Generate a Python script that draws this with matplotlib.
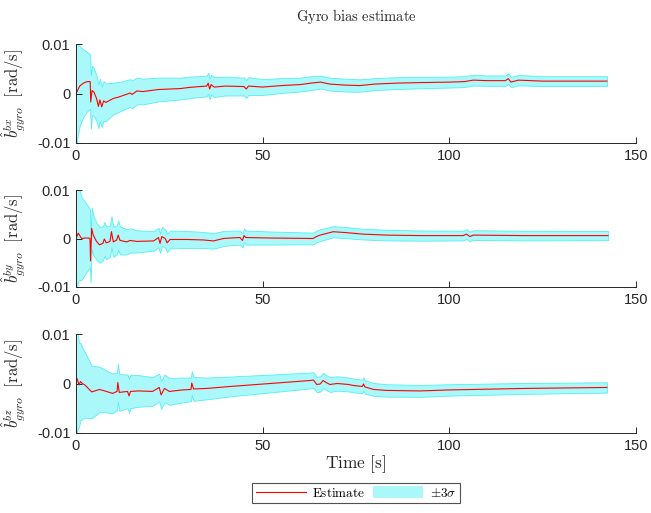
import numpy as np
import matplotlib as mpl
mpl.use('Agg')
from matplotlib import pyplot as plt
from matplotlib.patches import Patch
from matplotlib.lines import Line2D

plt.rcParams['mathtext.fontset'] = 'cm'
plt.rcParams['font.family'] = ['Liberation Sans', 'DejaVu Sans']
plt.rcParams['axes.unicode_minus'] = False

# Data (estimate and 3 sigma, in 1e-3 rad/s)
t_bx = [0, 0.4, 1.0, 2.0, 3.0, 3.8, 3.95, 4.3, 4.8, 5.5, 6.0, 6.4, 6.9, 7.4, 8.0, 9.0, 10.0,
        11.5, 13.0, 14.5, 15.0, 16.3, 18.0, 20.0, 22.0, 25.0, 28.0, 30.0, 33.0, 35.0, 35.4,
        35.8, 36.2, 37.0, 40.0, 45.0, 45.6, 46.2, 50.0, 55.0, 60.0, 63.0, 65.5, 68.0, 72.0,
        76.0, 80.0, 86.0, 92.0, 100.0, 104.0, 106.4, 110.0, 115.0, 115.8, 116.5, 118.5,
        125.0, 135.0, 142.2]
est_bx = [-0.1, 0.6, 1.5, 2.1, 2.4, 2.4, -1.7, 0.6, 0.3, -1.0, -2.6, -1.3, -2.7, -1.5, -1.8,
          -1.4, -1.0, -0.7, -0.3, 0.1, -0.2, 0.5, 0.4, 0.6, 0.8, 0.9, 1.0, 1.2, 1.4, 1.5, 2.1,
          0.9, 1.8, 1.3, 1.5, 1.4, 0.9, 1.5, 1.3, 1.6, 1.8, 2.1, 2.3, 1.9, 1.7, 1.6, 1.9, 2.1,
          2.2, 2.3, 2.4, 2.7, 2.6, 2.6, 3.0, 2.3, 2.7, 2.5, 2.5, 2.5]
sig_bx = [12, 9.5, 8.0, 6.8, 6.0, 5.5, 5.4, 5.0, 4.8, 4.6, 4.4, 4.3, 4.1, 4.0, 3.8, 3.5, 3.2,
          3.0, 2.9, 2.8, 2.8, 2.7, 2.6, 2.5, 2.4, 2.3, 2.2, 2.2, 2.1, 2.1, 2.1, 2.1, 2.0, 2.0,
          1.9, 1.8, 1.8, 1.8, 1.6, 1.5, 1.4, 1.4, 1.3, 1.3, 1.3, 1.25, 1.2, 1.2, 1.15, 1.1,
          1.1, 1.1, 1.05, 1.05, 1.05, 1.05, 1.05, 1.0, 1.0, 1.0]

t_by = [0, 0.6, 1.5, 2.4, 3.3, 3.75, 3.9, 4.2, 4.6, 5.5, 6.3, 7.2, 7.6, 8.1, 9.1, 9.5, 10.0,
        10.9, 11.3, 11.8, 13.6, 14.5, 16.3, 20.8, 22.1, 22.5, 23.0, 23.9, 24.4, 25.2, 29.7,
        34.1, 36.8, 39.5, 41.3, 43.9, 44.6, 45.0, 45.5, 52.0, 63.5, 64.4, 65.4, 68.9, 72.5,
        76.9, 83.2, 92.2, 103.7, 104.6, 105.5, 106.4, 120.0, 142.5]
est_by = [0.0, 1.1, 0.0, 0.1, 0.1, 0.0, -4.6, 2.1, 0.7, -0.6, -1.3, -1.0, -0.1, -0.9, -0.6,
          1.4, -0.7, -0.3, 0.7, -0.4, -0.7, -0.4, -0.6, -0.5, 0.2, -1.0, 0.4, 0.0, -0.9, -0.2,
          -0.2, -0.3, -0.5, 0.0, 0.1, 0.2, -0.4, 0.6, 0.2, 0.1, 0.0, 0.4, 0.7, 1.4, 1.2, 0.9,
          0.7, 0.6, 0.6, 0.9, 0.4, 0.7, 0.6, 0.6]
sig_by = [12, 9.8, 8.5, 7.5, 6.5, 6.0, 4.5, 4.3, 4.1, 3.8, 3.7, 3.5, 3.5, 3.4, 3.2, 3.2, 3.1,
          3.0, 3.0, 2.9, 2.6, 2.5, 2.3, 2.0, 2.0, 2.0, 1.95, 1.9, 1.9, 1.85, 1.75, 1.65, 1.6,
          1.55, 1.5, 1.45, 1.45, 1.45, 1.45, 1.35, 1.2, 1.2, 1.2, 1.15, 1.15, 1.1, 1.1, 1.05,
          1.0, 1.0, 1.0, 1.0, 1.0, 0.95]

t_bz = [0, 0.3, 0.8, 1.2, 1.7, 2.4, 4.2, 6.3, 7.7, 9.8, 11.0, 11.2, 11.6, 13.8, 14.2, 14.6,
        16.7, 20.5, 22.3, 22.8, 23.7, 25.0, 28.5, 30.8, 31.0, 31.5, 35.0, 41.3, 52.0, 62.7,
        63.6, 64.5, 65.4, 66.2, 67.0, 68.0, 70.0, 73.0, 74.3, 76.7, 77.0, 77.4, 79.7, 83.2,
        92.2, 100.0, 120.0, 142.2]
est_bz = [0.7, 1.0, -0.3, 0.4, 0.0, -0.3, -1.7, -1.2, -1.5, -2.0, -1.6, 0.2, -1.8, -1.6, -2.5,
          -1.6, -1.5, -1.6, -0.8, -2.3, -1.0, -1.6, -1.3, -1.2, 0.1, -1.1, -1.0, -0.6, 0.0,
          0.6, 0.7, -0.2, -0.1, 0.6, 0.2, -0.2, 0.0, -0.2, -0.4, -0.6, -0.1, -0.7, -1.2, -1.4,
          -1.5, -1.3, -1.0, -0.8]
sig_bz = [12, 10.5, 8.5, 7.8, 7.2, 6.6, 5.3, 4.6, 4.3, 4.0, 3.8, 3.8, 3.7, 3.4, 3.4, 3.4, 3.2,
          2.9, 2.8, 2.8, 2.8, 2.7, 2.5, 2.4, 2.4, 2.4, 2.2, 2.0, 1.8, 1.6, 1.6, 1.55, 1.55,
          1.55, 1.5, 1.5, 1.45, 1.4, 1.4, 1.35, 1.35, 1.35, 1.3, 1.25, 1.2, 1.15, 1.1, 1.05]

panels = [(t_bx, est_bx, sig_bx, 'bx'), (t_by, est_by, sig_by, 'by'), (t_bz, est_bz, sig_bz, 'bz')]
yticks = [-0.01, 0, 0.01]
yticklabels = ['-0.01', '0', '0.01']
xticks = [0, 50, 100, 150]

# Layout (figure fractions)
W, H = 651, 513
left, right = 76 / W, 636 / W
tops = [44, 190, 334]
bottoms = [143, 287, 433]

gray = '#262626'
fill_col = '#aaf8fa'
edge_col = '#55eef3'


def draw(ax, t, est, sig, name):
	t = np.array(t)
	est = np.array(est) * 1e-3
	sig = np.array(sig) * 1e-3
	ax.fill_between(t, est - sig, est + sig, facecolor=fill_col, edgecolor=edge_col,
			linewidth=0.6, zorder=1)
	ax.plot(t, est, color='red', linewidth=0.8, zorder=2)
	ax.set_xlim(0, 150)
	ax.set_ylim(-0.01, 0.01)
	ax.set_yticks(yticks)
	ax.set_yticklabels(yticklabels)
	ax.set_xticks(xticks)
	ax.set_xticklabels([str(x) for x in xticks])
	for s in ['top', 'right']:
		ax.spines[s].set_visible(False)
	for s in ['left', 'bottom']:
		ax.spines[s].set_color(gray)
		ax.spines[s].set_linewidth(0.7)
		ax.spines[s].set_zorder(3)
	ax.tick_params(direction='in', length=4, width=0.7, colors=gray, labelsize=10.5, pad=4)
	ax.set_ylabel(r'$\hat{b}^{%s}_{gyro}\ \ [\mathrm{rad/s}]$' % name, fontsize=12, color=gray)
	ax.yaxis.set_label_coords(-0.085, 0.5)


fig = plt.figure(figsize=(W / 100, H / 100), dpi=100)
axes = []
for (t, est, sig, name), top, bot in zip(panels, tops, bottoms):
	ax = fig.add_axes([left, 1 - bot / H, right - left, (bot - top) / H])
	draw(ax, t, est, sig, name)
	axes.append(ax)

cx = (left + right) / 2
fig.text(cx, 1 - 17 / H, r'$\mathrm{Gyro\ bias\ estimate}$', ha='center', va='center',
	 fontsize=10.5, color=gray)
fig.text(cx, 1 - 464 / H, r'$\mathrm{Time\ [s]}$', ha='center', va='center',
	 fontsize=12.5, color=gray)

handles = [Line2D([], [], color='red', linewidth=0.8),
	   Patch(facecolor=fill_col, edgecolor='none')]
labels = [r'$\mathrm{Estimate}$', r'$\pm 3\sigma$']
leg = fig.legend(handles, labels, loc='center', bbox_to_anchor=(cx, 1 - 493 / H), ncol=2,
		 fontsize=9.5, frameon=True, fancybox=False, edgecolor=gray, handlelength=3.8,
		 handleheight=1.0, columnspacing=0.6, handletextpad=0.5, borderpad=0.25,
		 borderaxespad=0)
leg.get_frame().set_linewidth(0.8)

fig.savefig('out.png', dpi=100)
